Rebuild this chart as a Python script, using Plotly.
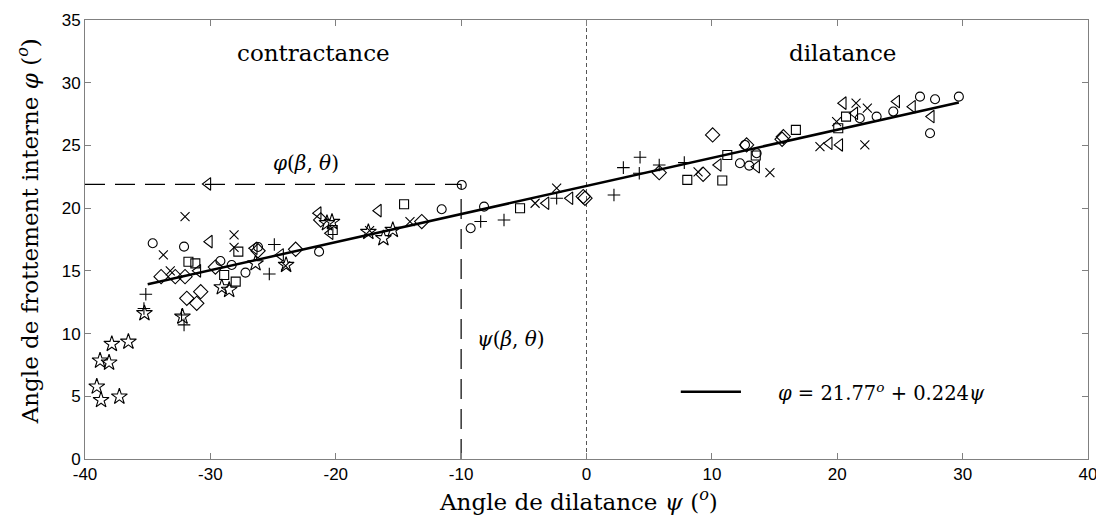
import plotly.graph_objects as go

# ---- data ----
star_x = [-37.86, -36.54, -38.8, -38.08, -39.06, -38.72, -37.26, -35.26, -32.23, -29.09, -28.5,
          -26.4, -23.96, -20.3, -20.7, -17.4, -16.2, -15.45]
star_y = [9.17, 9.35, 7.84, 7.68, 5.77, 4.70, 4.97, 11.62, 11.35, 13.69, 13.48,
          15.6, 15.47, 18.9, 18.8, 18.1, 17.6, 18.26]

plus_x = [-35.15, -35.3, -32.1, -32.3, -24.9, -25.3, -8.44, -6.58, -2.38, 2.19, 2.94, 4.27, 4.21, 5.8, 7.8]
plus_y = [13.13, 12.0, 10.69, 11.48, 17.1, 14.75, 18.93, 19.06, 20.79, 21.05, 23.23, 24.06, 22.78, 23.44, 23.63]

cross_x = [-33.2, -32.02, -33.75, -28.11, -28.11, -14.08, -4.1, -2.38, 14.63, 8.9, 18.62, 22.2, 21.5, 22.4, 19.95, -24.0, -17.3]
cross_y = [15.0, 19.32, 16.27, 17.86, 16.88, 18.93, 20.39, 21.59, 22.83, 22.9, 24.9, 25.04, 28.37, 27.97, 26.9, 15.4, 18.2]

circ_x = [-34.6, -32.1, -29.2, -27.2, -28.3, -21.33, -11.55, -9.95, -9.24, -8.17, 12.64, 12.24, 12.98,
          26.6, 27.8, 29.7, 27.4, 23.14, 24.47, 21.8, 13.57, -26.2]
circ_y = [17.2, 16.93, 15.79, 14.86, 15.47, 16.53, 19.91, 21.85, 18.4, 20.12, 25.04, 23.58, 23.39,
          28.89, 28.68, 28.89, 25.97, 27.3, 27.7, 27.17, 24.38, 16.9]

sq_x = [-31.75, -31.2, -27.77, -28.9, -27.98, -14.55, -20.24, -5.3, 8.04, 10.83, 11.23, 13.5, 16.7, 20.08, 20.7]
sq_y = [15.73, 15.6, 16.53, 14.67, 14.14, 20.31, 18.26, 19.99, 22.25, 22.2, 24.24, 24.2, 26.24, 26.37, 27.3]

dia_x = [-33.93, -31.88, -31.09, -30.77, -32.02, -32.8, -23.2, -13.14, -21.2, -0.12, 5.8, 9.3,
         10.06, 12.77, 15.6, -0.26, 15.7, -26.2, -29.6]
dia_y = [14.54, 12.81, 12.41, 13.34, 14.54, 14.54, 16.72, 18.93, 19.06, 20.79, 22.83, 22.7,
         25.84, 25.04, 25.49, 20.92, 25.7, 16.6, 15.3]

tri_x = [-30.08, -30.2, -21.4, -16.6, -20.45, -24.4, -3.23, -1.32, 10.51, 13.57,
         20.48, 20.2, 24.74, 26.0, 27.5, 19.36, 21.4, -26.5, -31.0]
tri_y = [17.33, 21.93, 19.6, 19.8, 18.0, 16.27, 20.39, 20.79, 23.44, 23.3,
         28.37, 25.04, 28.5, 28.09, 27.3, 25.17, 27.56, 16.8, 15.0]

fit_x = [-35.0, 29.7]
fit_y = [13.93, 28.42]

ref_phi = 21.9
ref_psi = -10.0

x_ticks = [-40, -30, -20, -10, 0, 10, 20, 30, 40]
y_ticks = [0, 5, 10, 15, 20, 25, 30, 35]

SERIF = "DejaVu Serif, serif"
SANS = "Liberation Sans, Arial, sans-serif"

fig = go.Figure()

# reference dashed lines
fig.add_trace(go.Scatter(x=[-40, ref_psi], y=[ref_phi, ref_phi], mode="lines",
                         line=dict(color="black", width=1.2, dash="20px,10px"), hoverinfo="skip"))
fig.add_trace(go.Scatter(x=[ref_psi, ref_psi], y=[0, ref_phi], mode="lines",
                         line=dict(color="black", width=1.2, dash="20px,10px"), hoverinfo="skip"))
fig.add_trace(go.Scatter(x=[0, 0], y=[0, 35], mode="lines",
                         line=dict(color="#555555", width=1, dash="4px,3px"), hoverinfo="skip"))

def mk(x, y, sym, size=10):
    fig.add_trace(go.Scatter(x=x, y=y, mode="markers",
                             marker=dict(symbol=sym, size=size, color="black",
                                         line=dict(color="black", width=1.1))))

mk(star_x, star_y, "star-open", 12)
mk(plus_x, plus_y, "cross-thin-open", 9)
mk(cross_x, cross_y, "x-thin-open", 9)
mk(circ_x, circ_y, "circle-open", 9)
mk(sq_x, sq_y, "square-open", 9)
mk(dia_x, dia_y, "diamond-open", 11)
mk(tri_x, tri_y, "triangle-left-open", 11)

fig.add_trace(go.Scatter(x=fit_x, y=fit_y, mode="lines", line=dict(color="black", width=2.5)))

# legend (drawn)
fig.add_shape(type="line", xref="paper", yref="paper", x0=0.594, x1=0.654, y0=0.153, y1=0.153,
              line=dict(color="black", width=2.5))
fig.add_annotation(xref="paper", yref="paper", x=0.689, y=0.153, xanchor="left", yanchor="middle",
                   text="<i>φ</i> = 21.77<sup><i>o</i></sup> + 0.224<i>ψ</i>", showarrow=False,
                   font=dict(family=SERIF, size=19.5, color="black"))

# text annotations
fig.add_annotation(x=-21.8, y=32.4, text="contractance", showarrow=False,
                   font=dict(family=SERIF, size=23, color="black"))
fig.add_annotation(x=20.4, y=32.4, text="dilatance", showarrow=False,
                   font=dict(family=SERIF, size=23, color="black"))
fig.add_annotation(x=-22.4, y=23.6, text="<i>φ</i>(<i>β</i>, <i>θ</i>)", showarrow=False,
                   font=dict(family=SERIF, size=20, color="black"))
fig.add_annotation(x=-6.0, y=9.6, text="<i>ψ</i>(<i>β</i>, <i>θ</i>)", showarrow=False,
                   font=dict(family=SERIF, size=20, color="black"))

# axis titles
fig.add_annotation(xref="paper", yref="paper", x=0.5, y=-0.0934, xshift=-8, xanchor="center", yanchor="middle",
                   text="Angle de dilatance <i>ψ</i> (<sup><i>o</i></sup>)", showarrow=False,
                   font=dict(family=SERIF, size=23, color="black"))
fig.add_annotation(xref="paper", yref="paper", x=-0.057, y=0.5, yshift=8, xanchor="center", yanchor="middle",
                   textangle=-90,
                   text="Angle de frottement interne <i>φ</i> (<sup><i>o</i></sup>)", showarrow=False,
                   font=dict(family=SERIF, size=23, color="black"))

# page body has an 8px margin: figure is sized/offset to compensate
fig.update_layout(
    width=1096, height=516,
    margin=dict(l=77, r=16, t=12, b=65, autoexpand=False),
    paper_bgcolor="white", plot_bgcolor="white",
    showlegend=False,
    xaxis=dict(range=[-40, 40], tickvals=x_ticks, ticktext=[str(v) for v in x_ticks],
               ticks="inside", ticklen=6, tickcolor="#808080", showline=True, linecolor="#808080",
               linewidth=1, mirror="ticks", showgrid=False, zeroline=False, automargin=False,
               tickfont=dict(family=SANS, size=17, color="black")),
    yaxis=dict(range=[0, 35], tickvals=y_ticks, ticktext=[str(v) for v in y_ticks],
               ticks="inside", ticklen=6, tickcolor="#808080", showline=True, linecolor="#808080",
               linewidth=1, mirror="ticks", showgrid=False, zeroline=False, automargin=False,
               tickfont=dict(family=SANS, size=17, color="black")),
)

fig.write_html("out.html")
